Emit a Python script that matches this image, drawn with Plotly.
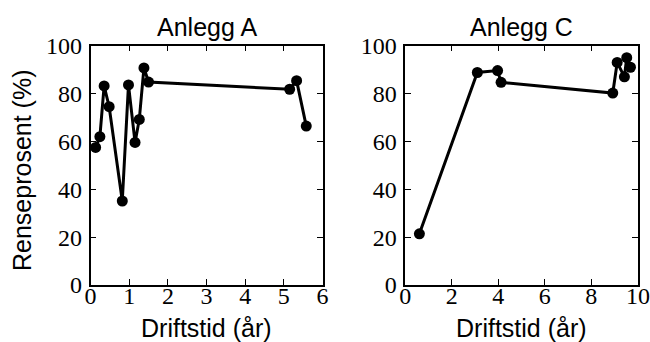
import plotly.graph_objects as go
from plotly.subplots import make_subplots

# Anlegg A: driftstid (år) and renseprosent (%)
tid_a = [0.13, 0.24, 0.35, 0.48, 0.82, 0.98, 1.15, 1.26, 1.38, 1.50, 5.15, 5.33, 5.58]
rens_a = [57.5, 62.0, 83.2, 74.5, 35.1, 83.6, 59.6, 69.2, 90.7, 84.8, 81.8, 85.4, 66.4]

# Anlegg C
tid_c = [0.61, 3.10, 3.97, 4.12, 8.92, 9.11, 9.42, 9.52, 9.68]
rens_c = [21.4, 88.8, 89.6, 84.7, 80.2, 93.0, 87.0, 95.0, 91.0]

titles = ["Anlegg A", "Anlegg C"]
x_label = "Driftstid (år)"
y_label = "Renseprosent (%)"
x_ticks_a = [0, 1, 2, 3, 4, 5, 6]
x_ticks_c = [0, 2, 4, 6, 8, 10]
y_ticks = [0, 20, 40, 60, 80, 100]

W, H = 650, 342
sans = "Liberation Sans"
serif = "Liberation Serif"

fig = make_subplots(rows=1, cols=2)

for col, (xs, ys) in enumerate([(tid_a, rens_a), (tid_c, rens_c)], start=1):
    fig.add_trace(
        go.Scatter(
            x=xs, y=ys, mode="lines+markers",
            line=dict(color="black", width=3),
            marker=dict(color="black", size=11),
            showlegend=False,
        ),
        row=1, col=col,
    )

ydom = [1 - 285 / H, 1 - 45.7 / H]
doms = [[90.6 / W, 322.5 / W], [405.2 / W, 637.9 / W]]

tick_font = dict(family=serif, size=24, color="black")

for ax in ("xaxis", "xaxis2", "yaxis", "yaxis2"):
    fig.layout[ax].update(
        showline=True, linecolor="black", linewidth=1.5, mirror="ticks",
        ticks="inside", ticklen=6, tickwidth=1, tickcolor="black",
        showgrid=False, zeroline=False, automargin=False,
        ticklabeloverflow="allow", tickfont=tick_font,
    )

fig.layout.xaxis.update(domain=doms[0], range=[0, 6], tickvals=x_ticks_a,
                        tickmode="array", ticklabelstandoff=-12)
fig.layout.xaxis2.update(domain=doms[1], range=[0, 10], tickvals=x_ticks_c,
                         tickmode="array", ticklabelstandoff=-12)
fig.layout.yaxis.update(domain=ydom, range=[0, 100], tickvals=y_ticks,
                        tickmode="array", ticklabelstandoff=2)
fig.layout.yaxis2.update(domain=ydom, range=[0, 100], tickvals=y_ticks,
                         tickmode="array", ticklabelstandoff=2)

annotations = []
for i, dom in enumerate(doms):
    cx = (dom[0] + dom[1]) / 2
    annotations.append(dict(
        text=titles[i], x=cx, y=1 - 27 / H, xref="paper", yref="paper",
        xanchor="center", yanchor="middle", showarrow=False,
        font=dict(family=sans, size=25, color="black"),
    ))
    annotations.append(dict(
        text=x_label, x=cx, y=1 - 328 / H, xref="paper", yref="paper",
        xanchor="center", yanchor="middle", showarrow=False,
        font=dict(family=sans, size=25, color="black"),
    ))
annotations.append(dict(
    text=y_label, x=22 / W, y=1 - 171 / H, xref="paper", yref="paper",
    xanchor="center", yanchor="middle", showarrow=False, textangle=-90,
    font=dict(family=sans, size=25, color="black"),
))

fig.update_layout(
    width=W, height=H,
    margin=dict(l=0, r=0, t=0, b=0),
    paper_bgcolor="white", plot_bgcolor="white",
    annotations=annotations,
)

fig.write_html("out.html")
